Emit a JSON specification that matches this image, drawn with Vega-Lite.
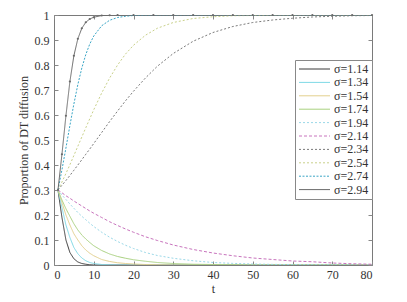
{
  "$schema": "https://vega.github.io/schema/vega-lite/v6.json",
  "width": 318,
  "height": 250,
  "autosize": {"type": "none"},
  "padding": {"left": 54, "top": 15, "right": 35, "bottom": 37},
  "background": "white",
  "config": {
    "view": {"stroke": "#7a7a7a", "strokeWidth": 1},
    "font": "Liberation Serif",
    "axis": {
      "labelFont": "Liberation Serif",
      "titleFont": "Liberation Serif",
      "labelFontSize": 12,
      "titleFontSize": 12,
      "titleFontWeight": "normal",
      "labelColor": "#333",
      "titleColor": "#333",
      "domain": false,
      "grid": false,
      "tickColor": "#888",
      "tickSize": -4
    }
  },
  "data": {"values": [
    {"s":"σ=1.14","t":1,"y":0.3},{"s":"σ=1.14","t":2,"y":0.19},{"s":"σ=1.14","t":3,"y":0.1},{"s":"σ=1.14","t":4,"y":0.05},{"s":"σ=1.14","t":5,"y":0.025},{"s":"σ=1.14","t":6,"y":0.012},{"s":"σ=1.14","t":7,"y":0.006},{"s":"σ=1.14","t":8,"y":0.003},{"s":"σ=1.14","t":9,"y":0.001},{"s":"σ=1.14","t":10,"y":0},{"s":"σ=1.14","t":20,"y":0},{"s":"σ=1.14","t":40,"y":0},{"s":"σ=1.14","t":80,"y":0},
    {"s":"σ=1.34","t":1,"y":0.3},{"s":"σ=1.34","t":2,"y":0.23},{"s":"σ=1.34","t":3,"y":0.16},{"s":"σ=1.34","t":4,"y":0.11},{"s":"σ=1.34","t":5,"y":0.07},{"s":"σ=1.34","t":6,"y":0.045},{"s":"σ=1.34","t":7,"y":0.028},{"s":"σ=1.34","t":8,"y":0.017},{"s":"σ=1.34","t":9,"y":0.01},{"s":"σ=1.34","t":10,"y":0.006},{"s":"σ=1.34","t":12,"y":0.002},{"s":"σ=1.34","t":14,"y":0.001},{"s":"σ=1.34","t":16,"y":0},{"s":"σ=1.34","t":40,"y":0},{"s":"σ=1.34","t":80,"y":0},
    {"s":"σ=1.54","t":1,"y":0.3},{"s":"σ=1.54","t":2,"y":0.25},{"s":"σ=1.54","t":3,"y":0.2},{"s":"σ=1.54","t":4,"y":0.16},{"s":"σ=1.54","t":5,"y":0.125},{"s":"σ=1.54","t":6,"y":0.1},{"s":"σ=1.54","t":7,"y":0.077},{"s":"σ=1.54","t":8,"y":0.06},{"s":"σ=1.54","t":9,"y":0.047},{"s":"σ=1.54","t":10,"y":0.037},{"s":"σ=1.54","t":12,"y":0.022},{"s":"σ=1.54","t":14,"y":0.014},{"s":"σ=1.54","t":16,"y":0.009},{"s":"σ=1.54","t":18,"y":0.006},{"s":"σ=1.54","t":20,"y":0.004},{"s":"σ=1.54","t":23,"y":0.002},{"s":"σ=1.54","t":26,"y":0.001},{"s":"σ=1.54","t":30,"y":0},{"s":"σ=1.54","t":80,"y":0},
    {"s":"σ=1.74","t":1,"y":0.3},{"s":"σ=1.74","t":2,"y":0.26},{"s":"σ=1.74","t":3,"y":0.225},{"s":"σ=1.74","t":4,"y":0.195},{"s":"σ=1.74","t":5,"y":0.165},{"s":"σ=1.74","t":6,"y":0.14},{"s":"σ=1.74","t":7,"y":0.12},{"s":"σ=1.74","t":8,"y":0.104},{"s":"σ=1.74","t":9,"y":0.09},{"s":"σ=1.74","t":10,"y":0.077},{"s":"σ=1.74","t":12,"y":0.058},{"s":"σ=1.74","t":14,"y":0.044},{"s":"σ=1.74","t":16,"y":0.034},{"s":"σ=1.74","t":18,"y":0.027},{"s":"σ=1.74","t":20,"y":0.021},{"s":"σ=1.74","t":23,"y":0.015},{"s":"σ=1.74","t":26,"y":0.01},{"s":"σ=1.74","t":30,"y":0.006},{"s":"σ=1.74","t":35,"y":0.003},{"s":"σ=1.74","t":40,"y":0.002},{"s":"σ=1.74","t":45,"y":0.001},{"s":"σ=1.74","t":50,"y":0},{"s":"σ=1.74","t":80,"y":0},
    {"s":"σ=1.94","t":1,"y":0.3},{"s":"σ=1.94","t":2,"y":0.28},{"s":"σ=1.94","t":3,"y":0.262},{"s":"σ=1.94","t":4,"y":0.244},{"s":"σ=1.94","t":5,"y":0.227},{"s":"σ=1.94","t":6,"y":0.21},{"s":"σ=1.94","t":7,"y":0.195},{"s":"σ=1.94","t":8,"y":0.181},{"s":"σ=1.94","t":9,"y":0.167},{"s":"σ=1.94","t":10,"y":0.154},{"s":"σ=1.94","t":12,"y":0.131},{"s":"σ=1.94","t":14,"y":0.111},{"s":"σ=1.94","t":16,"y":0.094},{"s":"σ=1.94","t":18,"y":0.079},{"s":"σ=1.94","t":20,"y":0.066},{"s":"σ=1.94","t":23,"y":0.05},{"s":"σ=1.94","t":26,"y":0.038},{"s":"σ=1.94","t":30,"y":0.027},{"s":"σ=1.94","t":35,"y":0.017},{"s":"σ=1.94","t":40,"y":0.01},{"s":"σ=1.94","t":45,"y":0.0065},{"s":"σ=1.94","t":50,"y":0.004},{"s":"σ=1.94","t":55,"y":0.0025},{"s":"σ=1.94","t":60,"y":0.0016},{"s":"σ=1.94","t":65,"y":0.001},{"s":"σ=1.94","t":70,"y":0.0006},{"s":"σ=1.94","t":75,"y":0.0004},{"s":"σ=1.94","t":80,"y":0.0002},
    {"s":"σ=2.14","t":1,"y":0.3},{"s":"σ=2.14","t":2,"y":0.289},{"s":"σ=2.14","t":3,"y":0.277},{"s":"σ=2.14","t":4,"y":0.267},{"s":"σ=2.14","t":5,"y":0.256},{"s":"σ=2.14","t":6,"y":0.246},{"s":"σ=2.14","t":7,"y":0.236},{"s":"σ=2.14","t":8,"y":0.226},{"s":"σ=2.14","t":9,"y":0.216},{"s":"σ=2.14","t":10,"y":0.207},{"s":"σ=2.14","t":12,"y":0.19},{"s":"σ=2.14","t":14,"y":0.173},{"s":"σ=2.14","t":16,"y":0.158},{"s":"σ=2.14","t":18,"y":0.144},{"s":"σ=2.14","t":20,"y":0.131},{"s":"σ=2.14","t":23,"y":0.113},{"s":"σ=2.14","t":26,"y":0.098},{"s":"σ=2.14","t":30,"y":0.08},{"s":"σ=2.14","t":35,"y":0.062},{"s":"σ=2.14","t":40,"y":0.048},{"s":"σ=2.14","t":45,"y":0.037},{"s":"σ=2.14","t":50,"y":0.028},{"s":"σ=2.14","t":55,"y":0.022},{"s":"σ=2.14","t":60,"y":0.016},{"s":"σ=2.14","t":65,"y":0.013},{"s":"σ=2.14","t":70,"y":0.008},{"s":"σ=2.14","t":75,"y":0.005},{"s":"σ=2.14","t":80,"y":0.003},
    {"s":"σ=2.34","t":1,"y":0.3},{"s":"σ=2.34","t":2,"y":0.319},{"s":"σ=2.34","t":3,"y":0.338},{"s":"σ=2.34","t":4,"y":0.358},{"s":"σ=2.34","t":5,"y":0.379},{"s":"σ=2.34","t":6,"y":0.4},{"s":"σ=2.34","t":7,"y":0.421},{"s":"σ=2.34","t":8,"y":0.443},{"s":"σ=2.34","t":9,"y":0.464},{"s":"σ=2.34","t":10,"y":0.486},{"s":"σ=2.34","t":12,"y":0.53},{"s":"σ=2.34","t":14,"y":0.574},{"s":"σ=2.34","t":16,"y":0.616},{"s":"σ=2.34","t":18,"y":0.657},{"s":"σ=2.34","t":20,"y":0.695},{"s":"σ=2.34","t":23,"y":0.748},{"s":"σ=2.34","t":26,"y":0.795},{"s":"σ=2.34","t":30,"y":0.846},{"s":"σ=2.34","t":35,"y":0.895},{"s":"σ=2.34","t":40,"y":0.93},{"s":"σ=2.34","t":45,"y":0.954},{"s":"σ=2.34","t":50,"y":0.97},{"s":"σ=2.34","t":55,"y":0.98},{"s":"σ=2.34","t":60,"y":0.987},{"s":"σ=2.34","t":65,"y":0.992},{"s":"σ=2.34","t":70,"y":0.995},{"s":"σ=2.34","t":75,"y":0.997},{"s":"σ=2.34","t":80,"y":0.998},
    {"s":"σ=2.54","t":1,"y":0.3},{"s":"σ=2.54","t":2,"y":0.332},{"s":"σ=2.54","t":3,"y":0.366},{"s":"σ=2.54","t":4,"y":0.401},{"s":"σ=2.54","t":5,"y":0.438},{"s":"σ=2.54","t":6,"y":0.475},{"s":"σ=2.54","t":7,"y":0.512},{"s":"σ=2.54","t":8,"y":0.549},{"s":"σ=2.54","t":9,"y":0.585},{"s":"σ=2.54","t":10,"y":0.621},{"s":"σ=2.54","t":12,"y":0.688},{"s":"σ=2.54","t":14,"y":0.748},{"s":"σ=2.54","t":16,"y":0.8},{"s":"σ=2.54","t":18,"y":0.844},{"s":"σ=2.54","t":20,"y":0.879},{"s":"σ=2.54","t":23,"y":0.919},{"s":"σ=2.54","t":26,"y":0.947},{"s":"σ=2.54","t":30,"y":0.97},{"s":"σ=2.54","t":35,"y":0.986},{"s":"σ=2.54","t":40,"y":0.993},{"s":"σ=2.54","t":45,"y":0.997},{"s":"σ=2.54","t":50,"y":0.998},{"s":"σ=2.54","t":55,"y":0.999},{"s":"σ=2.54","t":60,"y":1},{"s":"σ=2.54","t":80,"y":1},
    {"s":"σ=2.74","t":1,"y":0.3},{"s":"σ=2.74","t":2,"y":0.381},{"s":"σ=2.74","t":3,"y":0.468},{"s":"σ=2.74","t":4,"y":0.558},{"s":"σ=2.74","t":5,"y":0.644},{"s":"σ=2.74","t":6,"y":0.722},{"s":"σ=2.74","t":7,"y":0.788},{"s":"σ=2.74","t":8,"y":0.842},{"s":"σ=2.74","t":9,"y":0.884},{"s":"σ=2.74","t":10,"y":0.916},{"s":"σ=2.74","t":12,"y":0.957},{"s":"σ=2.74","t":14,"y":0.979},{"s":"σ=2.74","t":16,"y":0.99},{"s":"σ=2.74","t":18,"y":0.995},{"s":"σ=2.74","t":20,"y":0.998},{"s":"σ=2.74","t":23,"y":0.999},{"s":"σ=2.74","t":26,"y":1},{"s":"σ=2.74","t":80,"y":1},
    {"s":"σ=2.94","t":1,"y":0.3},{"s":"σ=2.94","t":2,"y":0.443},{"s":"σ=2.94","t":3,"y":0.597},{"s":"σ=2.94","t":4,"y":0.734},{"s":"σ=2.94","t":5,"y":0.837},{"s":"σ=2.94","t":6,"y":0.905},{"s":"σ=2.94","t":7,"y":0.947},{"s":"σ=2.94","t":8,"y":0.971},{"s":"σ=2.94","t":9,"y":0.984},{"s":"σ=2.94","t":10,"y":0.991},{"s":"σ=2.94","t":12,"y":0.998},{"s":"σ=2.94","t":14,"y":0.999},{"s":"σ=2.94","t":16,"y":1},{"s":"σ=2.94","t":20,"y":1},{"s":"σ=2.94","t":25,"y":1},{"s":"σ=2.94","t":30,"y":1},{"s":"σ=2.94","t":35,"y":1},{"s":"σ=2.94","t":40,"y":1},{"s":"σ=2.94","t":45,"y":1},{"s":"σ=2.94","t":50,"y":1},{"s":"σ=2.94","t":55,"y":1},{"s":"σ=2.94","t":60,"y":1},{"s":"σ=2.94","t":65,"y":1},{"s":"σ=2.94","t":70,"y":1},{"s":"σ=2.94","t":75,"y":1},{"s":"σ=2.94","t":80,"y":1}
  ]},
  "layer": [
    {
      "mark": {"type": "line", "clip": true},
      "encoding": {
        "x": {"field": "t", "type": "quantitative", "scale": {"domain": [0, 80], "nice": false},
              "axis": {"title": "t", "values": [0,10,20,30,40,50,60,70,80], "labelPadding": 8, "titlePadding": 3}},
        "y": {"field": "y", "type": "quantitative", "scale": {"domain": [0, 1], "nice": false},
              "axis": {"title": "Proportion of DT diffusion", "values": [0,0.1,0.2,0.3,0.4,0.5,0.6,0.7,0.8,0.9,1], "format": "~g", "labelPadding": 9, "titlePadding": 4}},
        "color": {"field": "s", "type": "nominal",
          "scale": {"domain": ["σ=1.14","σ=1.34","σ=1.54","σ=1.74","σ=1.94","σ=2.14","σ=2.34","σ=2.54","σ=2.74","σ=2.94"],
                    "range": ["#3a3a3a","#7fd9e6","#e3d08e","#a9d17f","#9ad8e8","#c874bd","#7a7a7a","#c9d18a","#3aa6c6","#6a6a6a"]},
          "legend": {
            "title": null,
            "orient": "none",
            "legendX": 241,
            "legendY": 45,
            "strokeColor": "#888",
            "fillColor": "white",
            "padding": 3,
            "labelFont": "Liberation Serif",
            "labelFontSize": 12,
            "labelColor": "#333",
            "symbolType": "M-1,0H5.2",
            "symbolSize": 100,
            "symbolStrokeWidth": 1,
            "rowPadding": 1.4,
            "labelOffset": 24
          }},
        "strokeDash": {"field": "s", "type": "nominal",
          "scale": {"domain": ["σ=1.14","σ=1.34","σ=1.54","σ=1.74","σ=1.94","σ=2.14","σ=2.34","σ=2.54","σ=2.74","σ=2.94"],
                    "range": [[1,0],[1,0],[1,0],[1,0],[2,2],[3,2],[2,2],[2,2],[2,1.5],[1,0]]},
          "legend": {
            "title": null,
            "orient": "none",
            "legendX": 241,
            "legendY": 45,
            "strokeColor": "#888",
            "fillColor": "white",
            "padding": 3,
            "labelFont": "Liberation Serif",
            "labelFontSize": 12,
            "labelColor": "#333",
            "symbolType": "M-1,0H5.2",
            "symbolSize": 100,
            "symbolStrokeWidth": 1,
            "rowPadding": 1.4,
            "labelOffset": 24
          }},
        "strokeWidth": {"field": "s", "type": "nominal", "legend": null,
          "scale": {"domain": ["σ=1.14","σ=1.34","σ=1.54","σ=1.74","σ=1.94","σ=2.14","σ=2.34","σ=2.54","σ=2.74","σ=2.94"],
                    "range": [1,1,1,1,1,1,1,1,1.6,1]}}
      }
    },
    {
      "transform": [{"filter": "datum.s === 'σ=2.94'"}],
      "mark": {"type": "point", "filled": true, "size": 5, "color": "#6a6a6a", "opacity": 1},
      "encoding": {
        "x": {"field": "t", "type": "quantitative", "axis": {"orient": "top", "labels": false, "title": null, "values": [0,10,20,30,40,50,60,70,80]}},
        "y": {"field": "y", "type": "quantitative", "axis": {"orient": "right", "labels": false, "title": null, "values": [0,0.1,0.2,0.3,0.4,0.5,0.6,0.7,0.8,0.9,1]}}
      }
    }
  ],
  "resolve": {"axis": {"x": "independent", "y": "independent"}}
}
